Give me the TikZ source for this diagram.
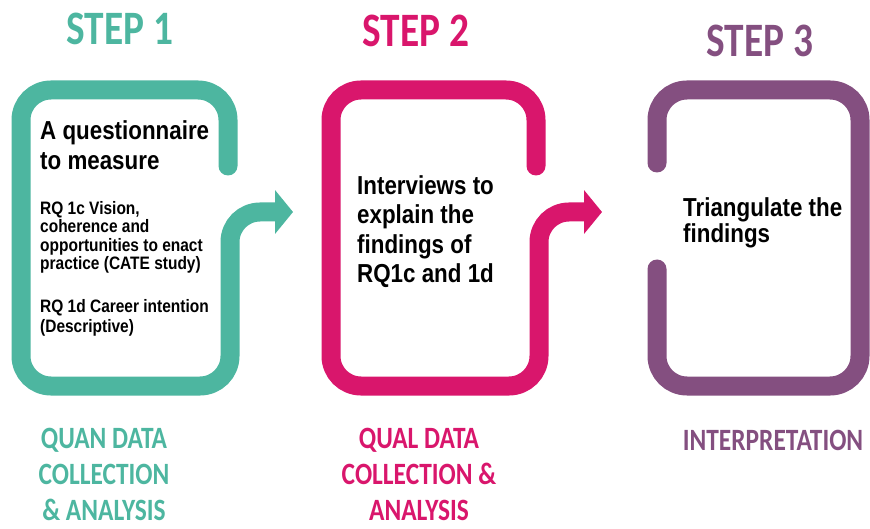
\documentclass[tikz,border=0pt]{standalone}
\usepackage{fontspec}
\setmainfont{Liberation Sans}[FakeStretch=0.86]
\newfontfamily\headfont{Carlito}[FakeStretch=0.82]
\usetikzlibrary{positioning,arrows.meta}

\definecolor{quancol}{RGB}{77,182,160}
\definecolor{qualcol}{RGB}{217,22,108}
\definecolor{interpcol}{RGB}{132,79,128}

\begin{document}
\begin{tikzpicture}[x=1pt,y=-1pt,
                    stepline/.style={line width=19pt,rounded corners=30pt,line cap=round},
                    steparrow/.style={-{Triangle[length=18pt,width=43pt]}},
                    steptitle/.style={font=\headfont\fontsize{48}{48}\selectfont\bfseries,inner sep=0pt,anchor=base},
                    phase/.style={font=\headfont\fontsize{31}{36}\selectfont\bfseries,align=center,inner sep=0pt,anchor=base},
                    bigtext/.style={font=\fontsize{26}{30}\selectfont\bfseries,align=left,inner sep=0pt,anchor=base west},
                    smalltext/.style={font=\fontsize{18}{18.5}\selectfont\bfseries,align=left,inner sep=0pt,anchor=base west}
                   ]
  \useasboundingbox (0,0) rectangle (870,529);

  % step headings
  \node[steptitle,quancol] (step1) at (120,45) {STEP 1};
  \node[steptitle,qualcol] (step2) at (416,47) {STEP 2};
  \node[steptitle,interpcol] (step3) at (760,57) {STEP 3};

  % step 1 box, open on the right, leaving as an arrow
  \draw[stepline,steparrow,quancol] (228,166) -- (228,90) -- (21,90) -- (21,386) -- (230,386) -- (230,212) -- (293,212);

  % step 2 box
  \draw[stepline,steparrow,qualcol] (536,166) -- (536,90) -- (331,90) -- (331,386) -- (539,386) -- (539,212) -- (602,212);

  % step 3 box, open on the left
  \draw[stepline,interpcol] (657,163) -- (657,90) -- (860,90) -- (860,386) -- (657,386) -- (657,269);

  % box texts (anchored at the last baseline)
  \node[bigtext] (quest) at (40,170) {A questionnaire\\to measure};
  \node[smalltext] (rq1c) at (40,270) {RQ 1c Vision,\\coherence and\\opportunities to enact\\practice (CATE study)};
  \node[smalltext,font=\fontsize{18}{20}\selectfont\bfseries] (rq1d) at (40,332) {RQ 1d Career intention\\(Descriptive)};
  \node[bigtext,font=\fontsize{26}{29.5}\selectfont\bfseries] (interv) at (357,283) {Interviews to\\explain the\\findings of\\RQ1c and 1d};
  \node[bigtext,font=\fontsize{26}{26}\selectfont\bfseries] (triang) at (683,243) {Triangulate the\\findings};

  % phase labels
  \node[phase,quancol] (quan) at (104,520) {QUAN DATA\\COLLECTION\\\& ANALYSIS};
  \node[phase,qualcol] (qual) at (419,520) {QUAL DATA\\COLLECTION \&\\ANALYSIS};
  \node[phase,interpcol] (interp) at (773,450) {INTERPRETATION};
\end{tikzpicture}
\end{document}
